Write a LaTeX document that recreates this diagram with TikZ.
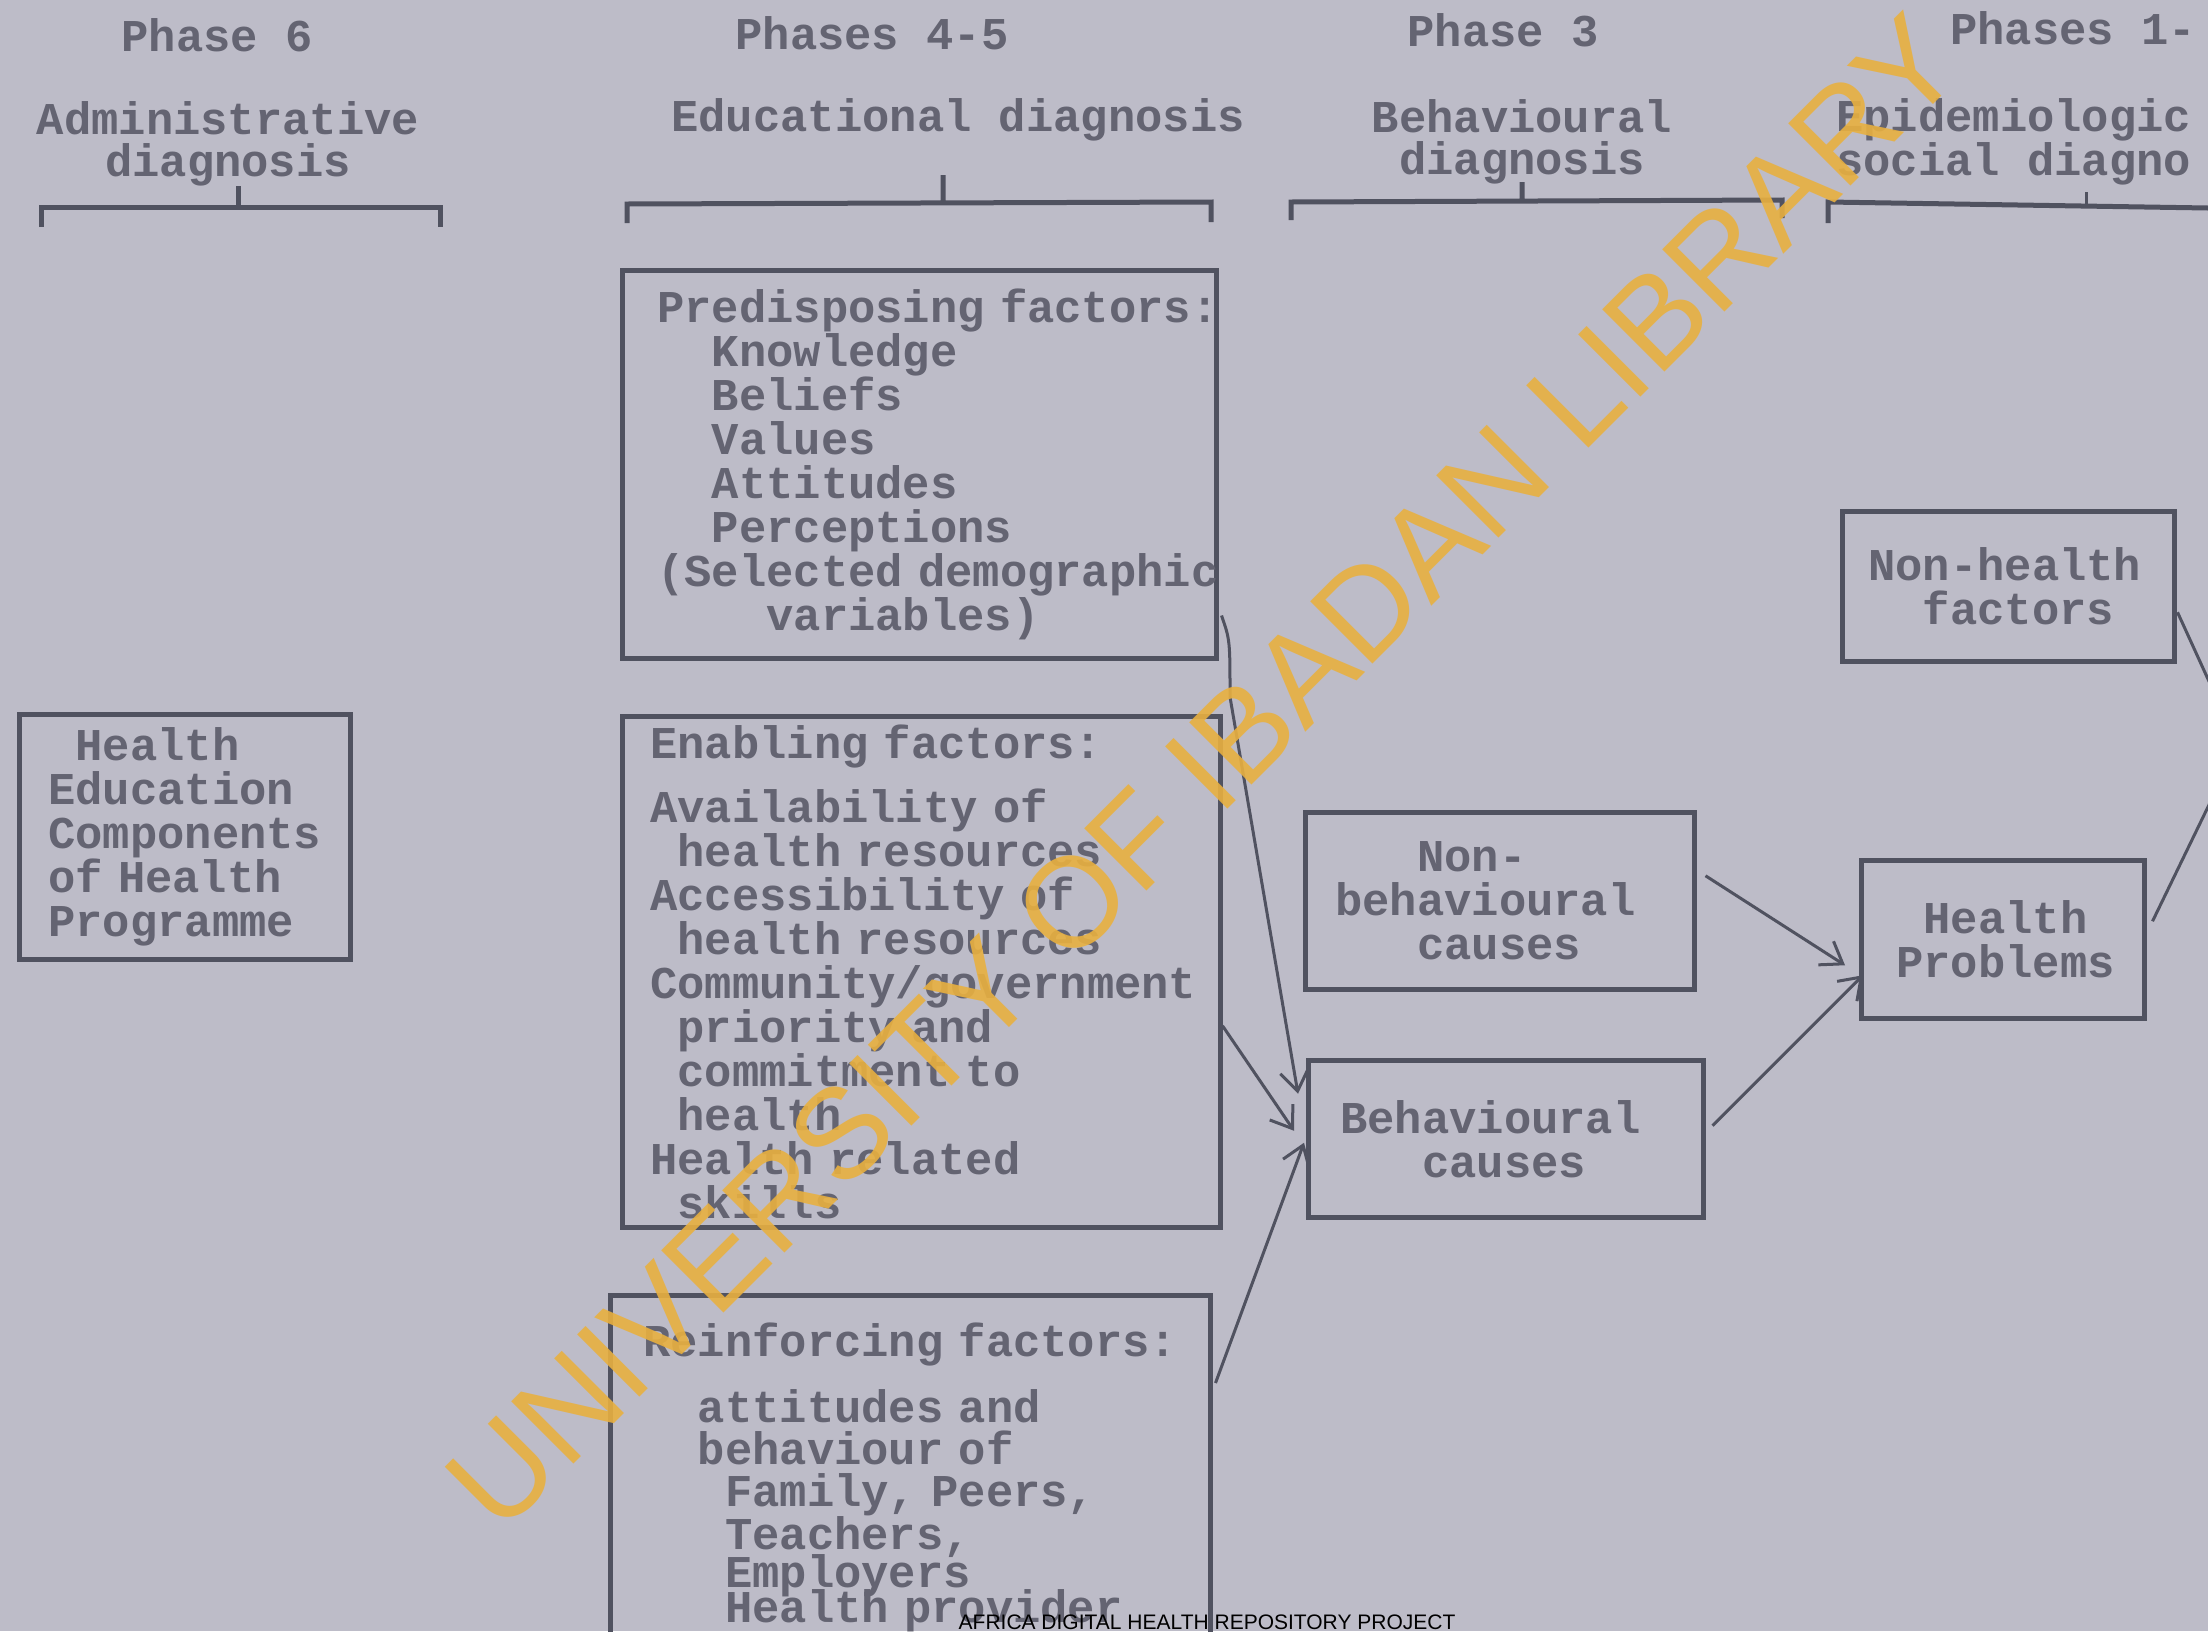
\documentclass[tikz,border=0pt]{standalone}
\usepackage{fontspec}
\newfontfamily\typewr[WordSpace={1,0,0}]{Liberation Mono}
\newfontfamily\plainsans{Liberation Sans}
\usepackage{tikz}
\usetikzlibrary{positioning, arrows.meta, calc}
\definecolor{paper}{RGB}{189,188,200}
\definecolor{ink}{RGB}{100,100,114}
\definecolor{edge}{RGB}{80,82,96}
\definecolor{stamp}{RGB}{232,176,64}
\newcommand{\tabin}[1]{\hspace*{#1\fontcharwd\font`x}}
\tikzstyle{arrow} = [line width=3pt, draw=edge, -{Straight Barb[length=20pt,width=28pt]}]
\tikzstyle{link} = [line width=3pt, draw=edge]
\tikzstyle{brace} = [line width=5pt, draw=edge]
\tikzstyle{block} = [rectangle, draw=edge, line width=4.5pt, anchor=north west, align=left, inner ysep=0pt, text=ink, font=\typewr\bfseries\fontsize{45.5pt}{44pt}\selectfont]
\tikzstyle{heading} = [inner sep=0pt, text=ink, font=\typewr\bfseries\fontsize{45.5pt}{42pt}\selectfont]

\begin{document}
\begin{tikzpicture}[x=1pt, y=-1pt]
    \useasboundingbox (0,0) rectangle (2208,1631);
    \clip (0,0) rectangle (2208,1631);
    \fill [paper] (0,0) rectangle (2208,1631);

    % Headings
    \node (ph6) [heading] at (217,35) {Phase 6};
    \node (adm) [heading, align=center] at (228,144) {Administrative\\diagnosis};
    \node (ph45) [heading] at (872,33) {Phases 4-5};
    \node (edu) [heading] at (958,120) {Educational diagnosis};
    \node (ph3) [heading] at (1503,30) {Phase 3};
    \node (beh) [heading, align=center] at (1522,142) {Behavioural\\diagnosis};
    \node (ph12) [heading, anchor=west] at (1950,28) {Phases 1-};
    \node (epi) [heading, align=left, anchor=west] at (1836,142) {Epidemiologic\\social diagno};

    % Brackets
    \draw [brace] (41,227) -- (41,207) -- (440,207) -- (440,227) (238,207) -- (238,186);
    \draw [brace] (627,223) -- (627,204) -- (1211,202) -- (1211,222) (943,203) -- (943,175);
    \draw [brace] (1291,220) -- (1291,202) -- (1782,200) -- (1782,218) (1522,201) -- (1522,182);
    \draw [brace] (1828,223) -- (1828,202) -- (2208,208);
    \draw [link] (2086,205) -- (2086,192);

    % Nodes
    \node (hec) [block, text width=273pt, inner xsep=29pt, minimum height=245pt] at (17,712)
        {\tabin{1}Health\\Education\\Components\\of Health\\Programme};
    \node (pred) [block, text width=524pt, inner xsep=35pt, minimum height=388pt] at (620,268)
        {\mbox{Predisposing factors:}\\
         \tabin{2}Knowledge\\
         \tabin{2}Beliefs\\
         \tabin{2}Values\\
         \tabin{2}Attitudes\\
         \tabin{2}Perceptions\\
         \mbox{(Selected demographic}\\
         \tabin{4}variables)};
    \node (enab) [block, text width=542pt, inner xsep=28pt, minimum height=511pt] at (620,714)
        {Enabling factors:\\[20pt]
         Availability of\\
         \tabin{1}health resources\\
         Accessibility of\\
         \tabin{1}health resources\\
         Community/government\\
         \tabin{1}priority and\\
         \tabin{1}commitment to\\
         \tabin{1}health\\
         Health related\\
         \tabin{1}skills};
    \node (reinf) [block, text width=534pt, inner xsep=33pt, inner ysep=28pt,
        font=\typewr\bfseries\fontsize{45.5pt}{42pt}\selectfont] at (608,1293)
        {\mbox{Reinforcing factors:}\\[22pt]
         \tabin{2}attitudes and\\
         \tabin{2}behaviour of\\
         \tabin{3}Family, Peers,\\
         \tabin{3}Teachers,\\[-4pt]
         \tabin{3}Employers\\[-9pt]
         \tabin{3}Health provider};
    \node (nonbeh) [block, text width=329pt, inner xsep=30pt, minimum height=177pt] at (1303,810)
        {\tabin{3}Non-\\behavioural\\\tabin{3}causes};
    \node (behav) [block, text width=331pt, inner xsep=32pt, minimum height=157pt] at (1306,1058)
        {Behavioural\\\tabin{3}causes};
    \node (hp) [block, text width=213pt, inner xsep=35pt, minimum height=158pt] at (1859,858)
        {\tabin{1}Health\\Problems};
    \node (nh) [block, text width=280pt, inner xsep=26pt, minimum height=150pt] at (1840,509)
        {Non-health\\\tabin{2}factors};
    \coordinate (qol) at (2238,745);

    % Arrows
    \draw [arrow] ($(pred.south east)+(3,-45)$) .. controls (1230,640) .. (1230,697) -- ($(behav.west)+(-8,-45)$);
    \draw [arrow] ($(enab.east)+(0,54)$) -- ($(behav.west)+(-12,-8)$);
    \draw [arrow] ($(reinf.north east)+(3,90)$) -- ($(behav.west)+(-2,4)$);
    \draw [arrow] ($(nonbeh.east)+(9,-25)$) -- ($(hp.west)+(-14,26)$);
    \draw [arrow] ($(behav.east)+(7,-13)$) -- ($(hp.west)+(4,36)$);
    \draw [link] ($(hp.east)+(6,-18)$) -- (qol);
    \draw [link] ($(nh.east)+(1,26)$) -- (qol);

    % Stamp
    \node (lib) [rotate=45, text=stamp, text opacity=0.9, font=\plainsans\fontsize{128pt}{128pt}\selectfont] at (1203,772) {UNIVERSITY OF IBADAN LIBRARY};
    \node (adhrp) [anchor=base, inner sep=0pt, text=black, font=\plainsans\fontsize{21pt}{21pt}\selectfont] at (1207,1629) {AFRICA DIGITAL HEALTH REPOSITORY PROJECT};
\end{tikzpicture}
\end{document}
